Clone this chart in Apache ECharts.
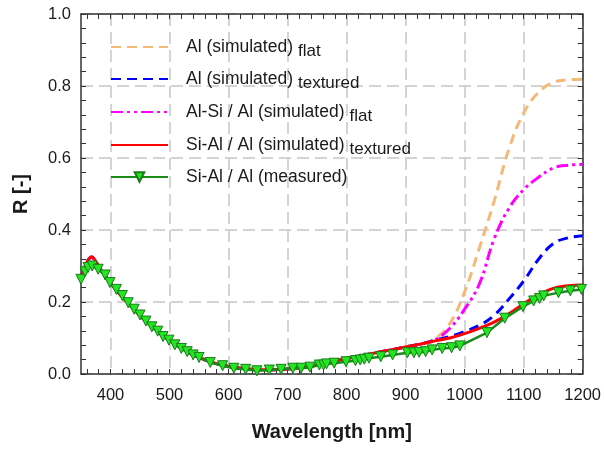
<!DOCTYPE html>
<html>
<head>
<meta charset="utf-8">
<script src="https://cdn.jsdelivr.net/npm/echarts@6/dist/echarts.min.js"></script>
<style>html,body{margin:0;padding:0;background:#fff;}#c{width:604px;height:451px;}</style>
</head>
<body>
<div id="c"></div>
<script>
// ---- data ----
var seriesMain = ['Al (simulated)', 'Al (simulated)', 'Al-Si / Al (simulated)', 'Si-Al / Al (simulated)', 'Si-Al / Al (measured)'];
var seriesSub = ['flat', 'textured', 'flat', 'textured', ''];
var xLabelValues = [400, 500, 600, 700, 800, 900, 1000, 1100, 1200];
var xTickValues = [360, 380, 400, 420, 440, 460, 480, 500, 520, 540, 560, 580, 600, 620, 640, 660, 680, 700, 720, 740, 760, 780, 800, 820, 840, 860, 880, 900, 920, 940, 960, 980, 1000, 1020, 1040, 1060, 1080, 1100, 1120, 1140, 1160, 1180, 1200];
var yTickLabels = [0.0, 0.2, 0.4, 0.6, 0.8, 1.0];

var simWavelength = [350, 360, 368, 376, 385, 400, 425, 450, 475, 500, 525, 550, 575, 600, 625, 650, 675, 700, 725, 750, 775, 800, 825, 850, 875, 900, 925, 950, 975, 1000, 1025, 1050, 1075, 1100, 1125, 1150, 1175, 1200];
var alFlat = [0.27, 0.31, 0.324, 0.31, 0.285, 0.252, 0.205, 0.162, 0.125, 0.094, 0.067, 0.046, 0.031, 0.021, 0.015, 0.012, 0.012, 0.014, 0.018, 0.025, 0.035, 0.043, 0.051, 0.059, 0.067, 0.075, 0.083, 0.098, 0.14, 0.228, 0.35, 0.48, 0.625, 0.725, 0.782, 0.81, 0.817, 0.819];
var alTextured = [0.27, 0.31, 0.324, 0.31, 0.285, 0.252, 0.205, 0.162, 0.125, 0.094, 0.067, 0.046, 0.031, 0.021, 0.015, 0.012, 0.012, 0.014, 0.018, 0.025, 0.035, 0.043, 0.051, 0.059, 0.067, 0.075, 0.083, 0.094, 0.104, 0.118, 0.135, 0.163, 0.208, 0.258, 0.318, 0.362, 0.378, 0.384];
var alSiFlat = [0.27, 0.31, 0.324, 0.31, 0.285, 0.252, 0.205, 0.162, 0.125, 0.094, 0.067, 0.046, 0.031, 0.021, 0.015, 0.012, 0.012, 0.014, 0.018, 0.025, 0.035, 0.043, 0.051, 0.059, 0.067, 0.075, 0.083, 0.095, 0.127, 0.18, 0.25, 0.375, 0.46, 0.512, 0.546, 0.572, 0.58, 0.582];
var siAlTextured = [0.27, 0.31, 0.326, 0.31, 0.285, 0.252, 0.205, 0.162, 0.125, 0.094, 0.067, 0.046, 0.031, 0.021, 0.015, 0.012, 0.012, 0.014, 0.018, 0.025, 0.035, 0.043, 0.051, 0.059, 0.067, 0.075, 0.083, 0.092, 0.1, 0.112, 0.127, 0.144, 0.167, 0.195, 0.22, 0.238, 0.245, 0.247];

var measWavelength = [350, 357, 362, 369, 379, 391, 399, 410, 420, 430, 440, 450, 460, 470, 480, 489, 499, 509, 520, 530, 540, 550, 569, 590, 609, 629, 648, 669, 689, 709, 723, 738, 754, 761, 766, 779, 799, 815, 823, 830, 838, 858, 878, 903, 914, 923, 934, 945, 962, 978, 992, 1038, 1068, 1099, 1117, 1127, 1134, 1159, 1179, 1198];
var measR = [0.263, 0.284, 0.296, 0.300, 0.291, 0.275, 0.254, 0.235, 0.218, 0.198, 0.180, 0.164, 0.147, 0.131, 0.119, 0.104, 0.094, 0.081, 0.071, 0.062, 0.053, 0.046, 0.032, 0.023, 0.016, 0.013, 0.009, 0.011, 0.013, 0.016, 0.016, 0.019, 0.025, 0.025, 0.028, 0.030, 0.034, 0.037, 0.039, 0.041, 0.044, 0.048, 0.053, 0.059, 0.059, 0.060, 0.062, 0.067, 0.071, 0.073, 0.078, 0.115, 0.155, 0.187, 0.203, 0.210, 0.217, 0.226, 0.231, 0.235];

function zip(xs, ys) { return xs.map(function (x, i) { return [x, ys[i]]; }); }
var names = seriesMain.map(function (m, i) { return m + (seriesSub[i] ? ' ' + seriesSub[i] : ''); });

var FONT = 'Liberation Sans';
var axisColor = '#333';
var gridStyle = { color: '#c6c6c6', width: 1.5, type: [12, 6] };

var chart = echarts.init(document.getElementById('c'), null, { renderer: 'canvas' });

var legendTops = [38, 70, 103, 136, 168];
var legends = names.map(function (n, i) {
  var hasSub = !!seriesSub[i];
  return {
    data: [n], left: 110, top: legendTops[i], orient: 'vertical',
    itemWidth: 57, itemHeight: 12, padding: 0,
    itemStyle: hasSub ? { opacity: 0 } : {},
    formatter: function (name) {
      var k = names.indexOf(name);
      return '{m|' + seriesMain[k] + '}' + (seriesSub[k] ? '{s|' + seriesSub[k] + '}' : '');
    },
    textStyle: {
      fontFamily: FONT, color: '#1a1a1a',
      rich: {
        m: { fontFamily: FONT, fontSize: 17.5, color: '#1a1a1a', padding: [0, 5, 0, 13] },
        s: { fontFamily: FONT, fontSize: 17, color: '#1a1a1a', padding: [9, 0, 0, 0] }
      }
    }
  };
});

var option = {
  animation: false,
  backgroundColor: '#fff',
  textStyle: { fontFamily: FONT },
  grid: { left: 81, right: 20, top: 14, bottom: 77, containLabel: false },
  legend: legends,
  xAxis: [
    {
      type: 'value', min: 350, max: 1200, position: 'bottom',
      name: 'Wavelength [nm]', nameLocation: 'middle', nameGap: 48,
      nameTextStyle: { fontFamily: FONT, fontSize: 20, fontWeight: 'bold', color: '#1a1a1a' },
      axisLine: { show: true, onZero: false, lineStyle: { color: axisColor, width: 1.5 } },
      axisTick: { show: true, inside: true, length: 5, customValues: xTickValues, lineStyle: { color: axisColor, width: 1 } },
      axisLabel: { customValues: xLabelValues, fontFamily: FONT, fontSize: 16.5, color: '#1a1a1a', margin: 13,
        formatter: function (v) { return String(v); } },
      splitLine: { show: false }
    },
    {
      type: 'value', min: 350, max: 1200, position: 'top',
      axisLine: { show: true, onZero: false, lineStyle: { color: axisColor, width: 1.5 } },
      axisTick: { show: true, inside: true, length: 5, customValues: xTickValues, lineStyle: { color: axisColor, width: 1 } },
      axisLabel: { show: false },
      splitLine: { show: false }
    },
    {
      type: 'value', min: 350, max: 1200, position: 'bottom',
      axisLine: { show: false },
      axisTick: { show: false, customValues: xLabelValues },
      axisLabel: { show: false, customValues: xLabelValues },
      splitLine: { show: true, lineStyle: gridStyle }
    }
  ],
  yAxis: [
    {
      type: 'value', min: 0, max: 1, interval: 0.2, position: 'left',
      name: 'R [-]', nameLocation: 'middle', nameGap: 50,
      nameTextStyle: { fontFamily: FONT, fontSize: 20, fontWeight: 'bold', color: '#1a1a1a' },
      axisLine: { show: true, onZero: false, lineStyle: { color: axisColor, width: 1.5 } },
      axisTick: { show: true, inside: true, length: 5, lineStyle: { color: axisColor, width: 1 } },
      minorTick: { show: true, splitNumber: 5, length: 5, lineStyle: { color: axisColor, width: 1 } },
      axisLabel: { fontFamily: FONT, fontSize: 16.5, color: '#1a1a1a', margin: 10,
        customValues: yTickLabels,
        formatter: function (v) { return v.toFixed(1); } },
      splitLine: { show: true, lineStyle: gridStyle }
    },
    {
      type: 'value', min: 0, max: 1, interval: 0.2, position: 'right',
      axisLine: { show: true, onZero: false, lineStyle: { color: axisColor, width: 1.5 } },
      axisTick: { show: true, inside: true, length: 5, lineStyle: { color: axisColor, width: 1 } },
      minorTick: { show: true, splitNumber: 5, length: 5, lineStyle: { color: axisColor, width: 1 } },
      axisLabel: { show: false },
      splitLine: { show: false }
    }
  ],
  series: [
    { name: names[0], type: 'line', smooth: 0.4, symbol: 'none', data: zip(simWavelength, alFlat),
      lineStyle: { color: '#f4b878', width: 3, type: [10, 6] }, itemStyle: { color: '#f4b878' }, z: 2 },
    { name: names[1], type: 'line', smooth: 0.4, symbol: 'none', data: zip(simWavelength, alTextured),
      lineStyle: { color: '#0000ff', width: 3, type: [10, 6] }, itemStyle: { color: '#0000ff' }, z: 3 },
    { name: names[2], type: 'line', smooth: 0.4, symbol: 'none', data: zip(simWavelength, alSiFlat),
      lineStyle: { color: '#ff00ff', width: 3, type: [12, 4, 3, 4, 3, 4] }, itemStyle: { color: '#ff00ff' }, z: 4 },
    { name: names[3], type: 'line', smooth: 0.4, symbol: 'none', data: zip(simWavelength, siAlTextured),
      lineStyle: { color: '#ff0000', width: 3 }, itemStyle: { color: '#ff0000' }, z: 5 },
    { name: names[4], type: 'line', smooth: false, symbol: 'triangle', symbolRotate: 180, symbolSize: 10,
      data: zip(measWavelength, measR),
      lineStyle: { color: '#1a8a1a', width: 2.5 },
      itemStyle: { color: '#22e622', borderColor: '#1a7a1a', borderWidth: 1 }, z: 6 }
  ]
};
chart.setOption(option);
</script>
</body>
</html>
